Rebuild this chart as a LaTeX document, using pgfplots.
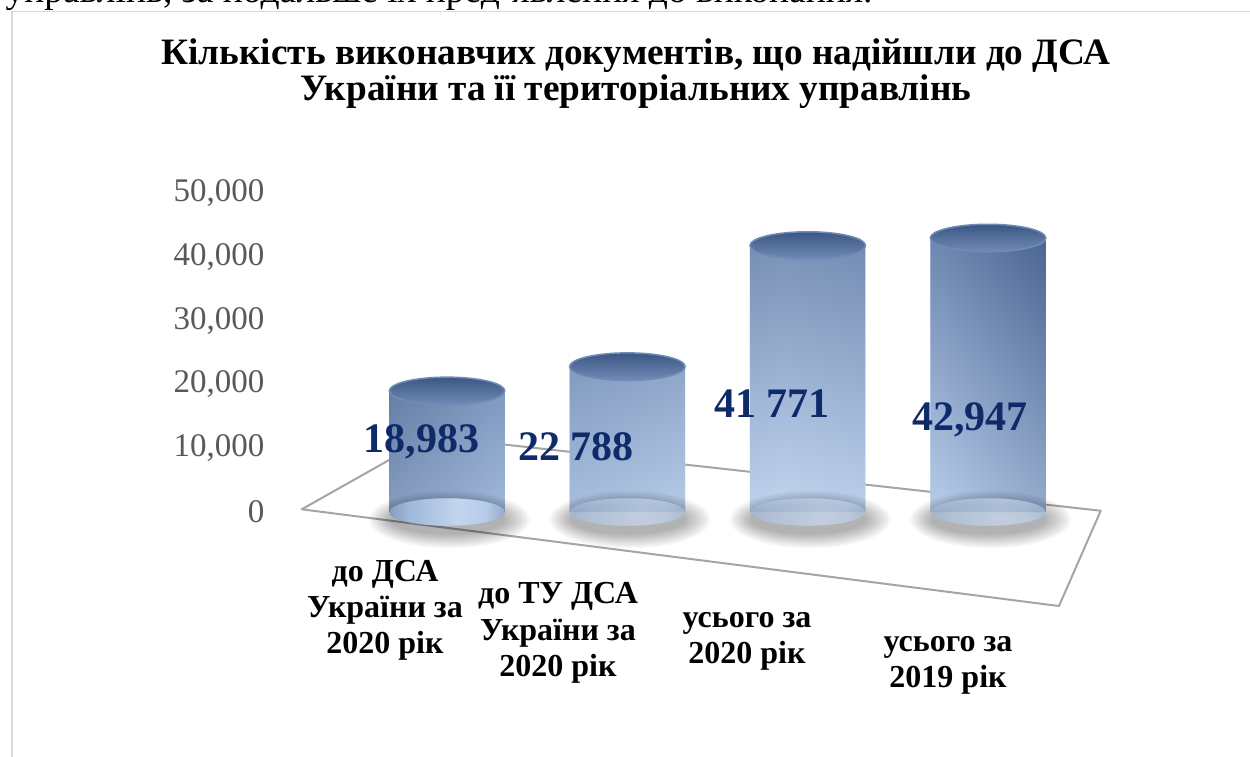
\documentclass[border=0pt]{standalone}
\usepackage{fontspec}
\setmainfont{Liberation Serif}
\usepackage{pgfplots}
\pgfplotsset{compat=1.18}

\definecolor{tickgray}{RGB}{89,89,89}
\definecolor{labelnavy}{RGB}{14,42,104}
\definecolor{floorgray}{RGB}{165,165,165}
\definecolor{framegray}{RGB}{217,217,217}
\definecolor{cylA}{RGB}{72,100,145}
\definecolor{cylB}{RGB}{118,148,192}
\definecolor{cylC}{RGB}{182,204,234}
\definecolor{cylD}{RGB}{160,185,222}
\definecolor{cylE}{RGB}{98,126,170}
\definecolor{cylDark}{RGB}{45,72,118}
\definecolor{cylLight}{RGB}{210,226,247}
\definecolor{capDark}{RGB}{58,86,130}
\definecolor{capLight}{RGB}{112,140,182}

% side of the cylinders: dark edges, light centre
\pgfdeclarehorizontalshading{cylside}{100bp}{color(0bp)=(cylA); color(25bp)=(cylA); color(33bp)=(cylB); color(55bp)=(cylC); color(67bp)=(cylD); color(75bp)=(cylE); color(100bp)=(cylE)}
\pgfdeclareverticalshading{captop}{100bp}{color(0bp)=(capLight); color(25bp)=(capLight); color(75bp)=(capDark); color(100bp)=(capDark)}

\def\cylR{23.1pt}
\def\cylr{5.5pt}
\newcommand\cylellipse[3]{% x offset, extra R, extra r
  \pgfpathellipse{\pgfpoint{#1}{-3pt}}{\pgfpoint{\cylR+#2}{0pt}}{\pgfpoint{0pt}{\cylr+#3}}\pgfusepath{fill}}
\pgfdeclareplotmark{cyltop}{%
  \pgfpathellipse{\pgfpointorigin}{\pgfpoint{\cylR}{0pt}}{\pgfpoint{0pt}{\cylr}}%
  \pgfshadepath{captop}{0}\pgfusepath{}%
  \pgfpathellipse{\pgfpointorigin}{\pgfpoint{\cylR}{0pt}}{\pgfpoint{0pt}{\cylr}}%
  \pgfusepath{stroke}}
\pgfdeclareplotmark{cylbot}{%
  \pgfpathellipse{\pgfpointorigin}{\pgfpoint{\cylR}{0pt}}{\pgfpoint{0pt}{\cylr}}%
  \pgfshadepath{cylside}{0}\pgfusepath{}%
  \pgfsetfillcolor{cylLight}\pgfsetfillopacity{0.45}%
  \pgfpathellipse{\pgfpointorigin}{\pgfpoint{\cylR}{0pt}}{\pgfpoint{0pt}{\cylr}}%
  \pgfusepath{fill}}
\pgfdeclareplotmark{cylshadow}{%
  \pgfsetfillcolor{black}%
  \pgfsetfillopacity{0.035}%
  \cylellipse{1pt}{9pt}{6pt}\cylellipse{1pt}{8pt}{5.3pt}%
  \cylellipse{1pt}{7pt}{4.6pt}\cylellipse{0.9pt}{6pt}{4pt}%
  \cylellipse{0.8pt}{5pt}{3.4pt}\cylellipse{0.7pt}{4pt}{2.8pt}%
  \cylellipse{0.6pt}{3pt}{2.2pt}\cylellipse{0.4pt}{2pt}{1.6pt}%
  \cylellipse{0.3pt}{1pt}{1pt}\cylellipse{0.2pt}{0pt}{0.5pt}}

\begin{document}
\begin{tikzpicture}[x=0.4pt, y=0.4pt]
\begin{scope}
\clip (0,0) rectangle (1250,756);
% end of the line of text above the chart (cut off)
\node[anchor=base west, inner sep=0pt, font=\fontsize{15}{17}\selectfont]
  at (5,753.3) {управлінь, за подальше їх пред'явлення до виконання.};
\draw[framegray, line width=0.7pt] (12,744.5) rectangle (1270,-20);
\end{scope}

% title
\node[anchor=base, inner sep=0pt, font=\fontsize{14.9}{17}\selectfont\bfseries]
  at (636,691.7) {Кількість виконавчих документів, що надійшли до ДСА};
\node[anchor=base, inner sep=0pt, font=\fontsize{14.9}{17}\selectfont\bfseries]
  at (636,655.3) {України та її територіальних управлінь};

% floor of the 3D chart
\draw[floorgray, line width=0.8pt, line join=round]
  (301.7,246.7) -- (431,319.6) -- (1100.7,245.3) -- (1059,150) -- cycle;

\begin{axis}[
    at={(106.68pt,97.6pt)}, anchor=south west,
    scale only axis,
    width=360.66pt, height=127.6pt,
    xmin=-1, xmax=4,
    ymin=0, ymax=50000,
    clip=false,
    axis line style={draw=none},
    tick style={draw=none},
    major tick length=0pt,
    xtick=\empty,
    ytick={0,10000,20000,30000,40000,50000},
    scaled y ticks=false,
    /pgf/number format/assume math mode=true,
    /pgf/number format/.cd, 1000 sep={,}, /pgfplots/.cd,
    yticklabel style={font=\fontsize{13.2}{15}\selectfont, text=tickgray,
        inner sep=0pt, anchor=east, xshift=-0.7pt},
]
% shadows and round bottoms
\addplot[only marks, mark=cylshadow] coordinates {(0,0) (1,0) (2,0) (3,0)};
\addplot[only marks, mark=cylbot] coordinates {(0,0) (1,0) (2,0) (3,0)};
% cylinder bodies
\addplot[ybar, bar width=46.2pt, bar shift=0pt, draw=none, shade, shading=cylside]
  coordinates {(0,18983) (1,22788) (2,41771) (3,42947)};
\addplot[ybar, bar width=46.2pt, bar shift=0pt, draw=none, top color=cylDark,
    bottom color=cylLight, fill opacity=0.45]
  coordinates {(0,18983) (1,22788) (2,41771) (3,42947)};
% tops
\addplot[only marks, mark=cyltop, mark options={draw=capLight, line width=0.6pt}]
  coordinates {(0,18983) (1,22788) (2,41771) (3,42947)};

% value labels
\begin{scope}[every node/.style={font=\fontsize{16.8}{18}\selectfont\bfseries,
    text=labelnavy, inner sep=0pt}]
\node at (axis cs:-0.141,11050) {18,983};
\node at (axis cs:0.715,10188) {22 788};
\node at (axis cs:1.802,16928) {41 771};
\node at (axis cs:2.90,14420) {42,947};
\end{scope}
\end{axis}

% category labels
\begin{scope}[every node/.style={anchor=base, inner sep=0pt,
    font=\fontsize{12.8}{15}\selectfont\bfseries}]
\node at (385,174.3) {до ДСА};
\node at (385,138.7) {України за};
\node at (385,102.7) {2020 рік};
\node at (558,152.7) {до ТУ ДСА};
\node at (558,116) {України за};
\node at (558,79.3) {2020 рік};
\node at (747,129) {усього за};
\node at (747,93) {2020 рік};
\node at (948,105) {усього за};
\node at (948,69) {2019 рік};
\end{scope}

\pgfresetboundingbox
\useasboundingbox (0,0) rectangle (1250,756);
\end{tikzpicture}
\end{document}
